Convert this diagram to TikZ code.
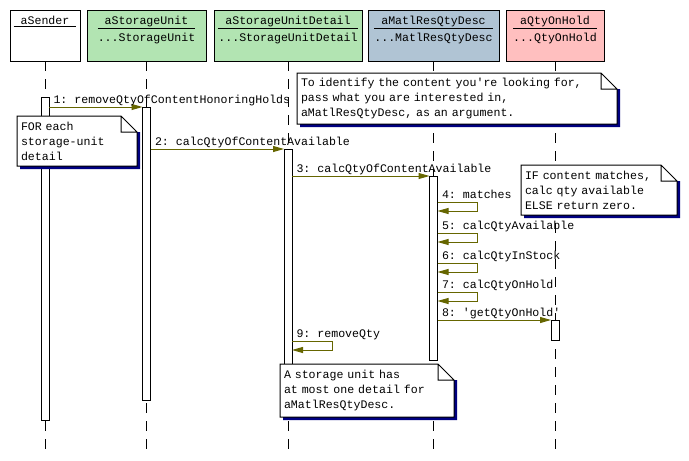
\documentclass[tikz,border=0pt]{standalone}
\usepackage{fontspec}
\usepackage{tikz}
\usepackage{xcolor}
\usetikzlibrary{arrows.meta}
\setmonofont{Liberation Mono}
\definecolor{unit-green}{RGB}{178,228,178}
\definecolor{desc-blue}{RGB}{176,196,212}
\definecolor{hold-pink}{RGB}{255,191,191}
\definecolor{msg-olive}{RGB}{102,102,0}
\definecolor{shadow-navy}{RGB}{0,0,128}
\tikzset{
    head-box/.style = {draw=black, line width=1pt, rectangle, minimum height=51pt, inner sep=0pt, outer sep=0pt},
    head-text/.style = {anchor=north, align=center, inner sep=0pt, yshift=-6pt, font=\ttfamily\fontsize{11.6}{17}\selectfont},
    life-line/.style = {draw=black, line width=1pt, dash pattern=on 10pt off 8pt},
    act-bar/.style = {draw=black, fill=white, line width=1pt, rectangle, minimum width=8pt, inner sep=0pt, outer sep=0pt, anchor=north},
    msg/.style = {draw=msg-olive, line width=1pt, -{Triangle[length=11pt,width=6pt,fill=msg-olive]}},
    msg-label/.style = {anchor=base west, inner sep=0pt, xshift=4pt, yshift=4pt, text=black, font=\ttfamily\fontsize{11.6}{15}\selectfont},
    note-box/.style = {fill=white, anchor=north west, align=left, inner xsep=4pt, inner ysep=5pt, outer sep=0pt, font=\ttfamily\fontsize{11.6}{15}\selectfont},
    note-line/.style = {draw=black, line width=1pt, line join=miter},
    note-shadow/.style = {fill=shadow-navy},
}
\begin{document}
\begin{tikzpicture}[x=1pt, y=-1pt]
\useasboundingbox[fill=white] (0,0) rectangle (689,461);

% object heads
\node[head-box, minimum width=70pt] (sender) at (45,35.5) {};
\node[head-box, fill=unit-green, minimum width=119pt] (unit) at (146.5,35.5) {};
\node[head-box, fill=unit-green, minimum width=148pt] (detail) at (288,35.5) {};
\node[head-box, fill=desc-blue, minimum width=131pt] (desc) at (433.5,35.5) {};
\node[head-box, fill=hold-pink, minimum width=98pt] (hold) at (555,35.5) {};
\node[head-text] at (sender.north) {\underline{\ aSender\ }};
\node[head-text] at (unit.north) {\underline{\ aStorageUnit\ }\\...StorageUnit};
\node[head-text] at (detail.north) {\underline{\ aStorageUnitDetail\ }\\...StorageUnitDetail};
\node[head-text] at (desc.north) {\underline{\ aMatlResQtyDesc\ }\\...MatlResQtyDesc};
\node[head-text] at (hold.north) {\underline{\ aQtyOnHold\ }\\...QtyOnHold};

% lifelines
\coordinate (life-end) at (0,450);
\foreach \h in {sender, unit, detail, desc, hold}
    \draw[life-line] (\h.south) -- (\h.south |- life-end);

% activations
\node[act-bar, minimum height=323pt] (sender-act) at (45,97) {};
\node[act-bar, minimum height=293pt] (unit-act) at (146.5,107) {};
\node[act-bar, minimum height=223pt] (detail-act) at (288,149) {};
\node[act-bar, minimum height=184pt] (desc-act) at (433.5,176) {};
\node[act-bar, minimum height=20pt] (hold-act) at (555,320) {};

% messages
\foreach \m/\y in {m1/107, m2/149, m3/176, m4/202, m5/233, m6/263, m7/292, m8/320, m9/341}
    \coordinate (\m) at (0,\y);
\draw[msg] (sender-act.east |- m1) -- node[msg-label, pos=0] {1: removeQtyOfContentHonoringHolds} (unit-act.west |- m1);
\draw[msg] (unit-act.east |- m2) -- node[msg-label, pos=0] {2: calcQtyOfContentAvailable} (detail-act.west |- m2);
\draw[msg] (detail-act.east |- m3) -- node[msg-label, pos=0] {3: calcQtyOfContentAvailable} (desc-act.west |- m3);
\foreach \m/\t in {m4/4: matches, m5/5: calcQtyAvailable, m6/6: calcQtyInStock, m7/7: calcQtyOnHold}
    \draw[msg] (desc-act.east |- \m) -- node[msg-label, pos=0] {\t} ++(40,0) -- ++(0,9) -- ++(-40,0);
\draw[msg] (desc-act.east |- m8) -- node[msg-label, pos=0] {8: 'getQtyOnHold'} (hold-act.west |- m8);
\draw[msg] (detail-act.east |- m9) -- node[msg-label, pos=0] {9: removeQty} ++(40,0) -- ++(0,9) -- ++(-40,0);

% notes
\node[note-box, text width=112pt, minimum height=50pt] (note-for) at (17,116) {FOR each\\storage-unit\\detail};
\node[note-box, text width=312pt, minimum height=51pt] (note-identify) at (297,73) {To identify the content you're looking for,\\pass what you are interested in,\\aMatlResQtyDesc, as an argument.};
\node[note-box, text width=148pt, minimum height=50pt] (note-if) at (521,165) {IF content matches,\\calc qty available\\ELSE return zero.};
\node[note-box, text width=166pt, minimum height=53pt] (note-storage) at (280,364) {A storage unit has\\at most one detail for\\aMatlResQtyDesc.};
\foreach \n in {note-for, note-identify, note-if, note-storage} {
    \fill[note-shadow] ([yshift=-16pt]\n.north east) -- ++(3,0) |- ([shift={(3pt,-3pt)}]\n.south west) -- ([xshift=3pt]\n.south west) -- (\n.south east) -- cycle;
    \draw[note-line] (\n.north west) -- ([xshift=-16pt]\n.north east) -- ([yshift=-16pt]\n.north east) -- (\n.south east) -- (\n.south west) -- cycle
        ([xshift=-16pt]\n.north east) |- ([yshift=-16pt]\n.north east);
}
\end{tikzpicture}
\end{document}
